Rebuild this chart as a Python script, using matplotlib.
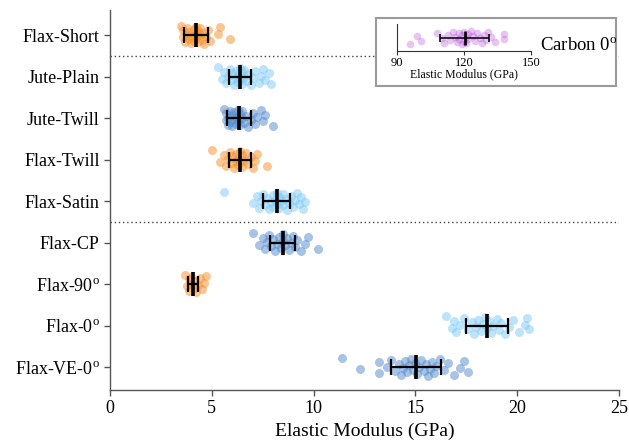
import numpy as np
import matplotlib
matplotlib.use("Agg")
import matplotlib.pyplot as plt
from matplotlib.patches import Rectangle

plt.rcParams['font.family'] = ['Liberation Serif', 'DejaVu Serif']
plt.rcParams['mathtext.fontset'] = 'custom'
plt.rcParams['mathtext.rm'] = 'Liberation Serif'
plt.rcParams['mathtext.it'] = 'Liberation Serif:italic'

categories = ['Flax-Short', 'Jute-Plain', 'Jute-Twill', 'Flax-Twill', 'Flax-Satin',
              'Flax-CP', 'Flax-90$^\\mathrm{o}$', 'Flax-0$^\\mathrm{o}$', 'Flax-VE-0$^\\mathrm{o}$']

flax_short = [3.5, 3.6, 3.6, 3.7, 3.8, 3.8, 3.9, 3.9, 4.0, 4.0, 4.1, 4.1, 4.2, 4.2, 4.2,
              4.3, 4.3, 4.4, 4.4, 4.5, 4.5, 4.6, 4.7, 4.8, 4.9, 5.3, 5.4, 5.9]
jute_plain = [5.3, 5.5, 5.6, 5.7, 5.8, 5.9, 6.0, 6.0, 6.1, 6.2, 6.2, 6.3, 6.3, 6.4, 6.4,
              6.5, 6.5, 6.6, 6.6, 6.7, 6.8, 6.9, 7.0, 7.1, 7.3, 7.4, 7.5, 7.6, 7.8, 7.9]
jute_twill = [5.6, 5.7, 5.7, 5.8, 5.8, 5.9, 5.9, 6.0, 6.0, 6.1, 6.1, 6.2, 6.2, 6.3, 6.3,
              6.4, 6.4, 6.5, 6.5, 6.6, 6.7, 6.8, 6.9, 7.0, 7.1, 7.2, 7.4, 7.5, 7.6, 8.0]
flax_twill = [5.0, 5.4, 5.6, 5.7, 5.8, 5.9, 6.0, 6.0, 6.1, 6.2, 6.2, 6.3, 6.3, 6.4, 6.4,
              6.5, 6.5, 6.6, 6.7, 6.8, 6.9, 7.0, 7.1, 7.2, 7.7]
flax_satin = [5.6, 7.0, 7.2, 7.3, 7.4, 7.5, 7.6, 7.7, 7.8, 7.9, 8.0, 8.0, 8.1, 8.2, 8.2,
              8.3, 8.3, 8.4, 8.5, 8.5, 8.6, 8.7, 8.8, 8.9, 9.0, 9.1, 9.2, 9.3, 9.4, 9.5, 9.6]
flax_cp = [7.0, 7.3, 7.5, 7.6, 7.7, 7.8, 7.9, 8.0, 8.1, 8.2, 8.3, 8.4, 8.5, 8.5, 8.6,
           8.7, 8.8, 8.9, 9.0, 9.1, 9.2, 9.4, 9.6, 9.7, 10.2]
flax_90 = [3.7, 3.8, 3.9, 3.9, 4.0, 4.0, 4.1, 4.1, 4.2, 4.3, 4.4, 4.5, 4.6, 4.7]
flax_0 = [16.5, 16.8, 16.9, 17.0, 17.2, 17.4, 17.6, 17.8, 17.9, 18.0, 18.1, 18.2, 18.3,
          18.4, 18.5, 18.6, 18.7, 18.8, 19.0, 19.1, 19.2, 19.4, 19.6, 19.8, 20.1, 20.4,
          20.5, 20.6]
flax_ve_0 = [11.4, 12.3, 13.2, 13.2, 13.6, 13.8, 14.0, 14.2, 14.3, 14.4, 14.5, 14.6, 14.7,
             14.8, 14.9, 15.0, 15.1, 15.2, 15.3, 15.4, 15.5, 15.6, 15.7, 15.8, 15.9, 16.0,
             16.2, 16.4, 16.6, 16.9, 17.2, 17.4, 17.6]
carbon_0 = [96, 99, 101, 108, 110, 111, 113, 114, 115, 116, 117, 118, 118, 119, 119, 120,
            120, 121, 121, 122, 122, 123, 124, 125, 126, 127, 128, 129, 130, 131, 132, 134,
            138, 138]

series = [flax_short, jute_plain, jute_twill, flax_twill, flax_satin,
          flax_cp, flax_90, flax_0, flax_ve_0]
means = [4.22, 6.39, 6.32, 6.38, 8.19, 8.48, 4.09, 18.53, 15.03]
sds = [0.59, 0.54, 0.59, 0.52, 0.66, 0.62, 0.24, 1.04, 1.24]
carbon_mean = 120.3
carbon_sd = 11.1

ORANGE = '#f7902a'
LBLUE = '#7ccaf7'
SBLUE = '#5089cc'
PURPLE = '#b040d8'
colors = [ORANGE, LBLUE, SBLUE, ORANGE, LBLUE, SBLUE, ORANGE, LBLUE, SBLUE]


def jitter(n, width=0.44):
    return ((np.arange(n) * 0.618034) % 1.0 - 0.5) * width


fig = plt.figure(figsize=(6.29, 4.44), dpi=100)
ax = fig.add_axes([0.175, 0.122, 0.809, 0.855])

for i, (vals, c) in enumerate(zip(series, colors)):
    y = i + jitter(len(vals))
    ax.scatter(vals, y, s=42, color=c, alpha=0.5, linewidths=0, zorder=2)
    ax.errorbar(means[i], i, xerr=sds[i], fmt='none', ecolor='black',
                elinewidth=1.6, capsize=5.5, capthick=1.6, zorder=4)
    ax.plot([means[i]], [i], marker='|', markersize=17, markeredgewidth=2.6,
            color='black', zorder=5)

for yl in (0.5, 4.5):
    ax.axhline(yl, color='#444444', linestyle=(0, (1, 2)), linewidth=1.0, zorder=1)

ax.set_xlim(0, 25)
ax.set_ylim(8.55, -0.6)
ax.set_xticks([0, 5, 10, 15, 20, 25])
ax.set_yticks(range(len(categories)))
ax.set_yticklabels(categories)
ax.tick_params(axis='both', labelsize=13, color='#555555', length=4, width=1)
ax.set_xlabel('Elastic Modulus (GPa)', fontsize=14, labelpad=4)
for side in ('top', 'right'):
    ax.spines[side].set_visible(False)
for side in ('left', 'bottom'):
    ax.spines[side].set_color('#555555')
    ax.spines[side].set_linewidth(1.0)

# inset box
box = Rectangle((0.598, 0.806), 0.382, 0.153, transform=fig.transFigure,
                facecolor='white', edgecolor='#9a9a9a', linewidth=1.5, zorder=10)
fig.patches.append(box)

axi = fig.add_axes([0.631, 0.885, 0.213, 0.061], zorder=11)
axi.patch.set_alpha(0)
yc = jitter(len(carbon_0), 0.5)
axi.scatter(carbon_0, yc, s=30, color=PURPLE, alpha=0.3, linewidths=0, zorder=2)
axi.errorbar(carbon_mean, 0, xerr=carbon_sd, fmt='none', ecolor='black',
             elinewidth=1.1, capsize=3.2, capthick=1.1, zorder=4)
axi.plot([carbon_mean], [0], marker='|', markersize=9.5, markeredgewidth=1.9,
         color='black', zorder=5)
axi.set_xlim(90, 150)
axi.set_ylim(-0.5, 0.5)
axi.set_xticks([90, 120, 150])
axi.set_yticks([])
axi.tick_params(axis='x', labelsize=9, length=3, width=0.8, pad=1, color='#333333')
axi.set_xlabel('Elastic Modulus (GPa)', fontsize=8.5, labelpad=0)
for side in ('top', 'right'):
    axi.spines[side].set_visible(False)
for side in ('left', 'bottom'):
    axi.spines[side].set_color('#333333')
    axi.spines[side].set_linewidth(0.8)

fig.text(0.858, 0.898, 'Carbon 0$^\\mathrm{o}$', fontsize=13.5, ha='left', va='center',
         zorder=12)

fig.savefig('out.png', dpi=100)
